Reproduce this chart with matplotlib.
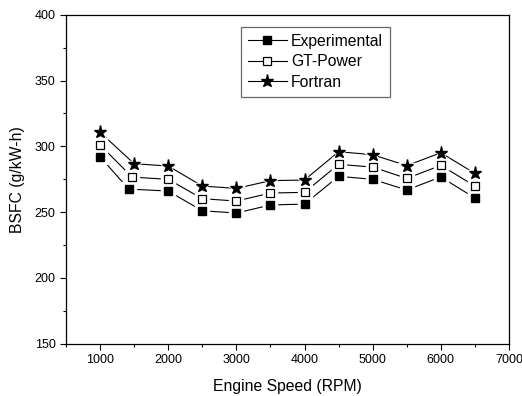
import matplotlib
matplotlib.use("Agg")
import matplotlib.pyplot as plt
from matplotlib.ticker import MultipleLocator
from matplotlib.lines import Line2D

plt.rcParams["font.family"] = ["Liberation Sans", "DejaVu Sans"]

# Engine speed (RPM) for each series
rpm_exp = [1000, 1420, 2000, 2500, 3000, 3500, 4000, 4500, 5000, 5500, 6000, 6500]
rpm_gt = [1000, 1470, 2000, 2500, 3000, 3500, 4000, 4500, 5000, 5500, 6000, 6500]
rpm_fortran = [1000, 1500, 2000, 2500, 3000, 3500, 4000, 4500, 5000, 5500, 6000, 6500]

# BSFC (g/kW-h)
bsfc_exp = [292, 267.5, 266, 251, 249.3, 255.4, 256.1, 277.2, 274.9, 266.8, 276.7, 260.7]
bsfc_gt = [301, 276.6, 274.9, 260.2, 258.4, 264.5, 265, 286.3, 284.2, 275.6, 285.5, 269.8]
bsfc_fortran = [310.6, 286.8, 285, 269.8, 268, 273.9, 274.4, 295.9, 293.6, 285.3, 295.1, 279.4]

series = [
    ("Experimental", rpm_exp, bsfc_exp, dict(marker="s", ms=5.5, mfc="black", mec="black")),
    ("GT-Power", rpm_gt, bsfc_gt, dict(marker="s", ms=5.5, mfc="white", mec="black", mew=0.9)),
    ("Fortran", rpm_fortran, bsfc_fortran, dict(marker="*", ms=9.5, mfc="black", mec="black")),
]

fig = plt.figure(figsize=(5.22, 3.96), dpi=100)
ax = fig.add_axes([66 / 522, 1 - 343.7 / 396, (509 - 66) / 522, (343.7 - 14.7) / 396])

handles = []
for name, x, y, style in series:
    ax.plot(x, y, color="black", lw=0.8, zorder=2)
    # white halo so the connecting line stops short of each marker
    ax.plot(x, y, ls="none", marker=style["marker"], ms=style["ms"] + 4,
            mfc="white", mec="white", zorder=3)
    ax.plot(x, y, ls="none", zorder=4, **style)
    handles.append(Line2D([], [], color="black", lw=0.8, label=name, **style))

ax.set_xlim(500, 7000)
ax.set_ylim(150, 400)
ax.xaxis.set_major_locator(MultipleLocator(1000))
ax.xaxis.set_minor_locator(MultipleLocator(500))
ax.yaxis.set_major_locator(MultipleLocator(50))
ax.yaxis.set_minor_locator(MultipleLocator(25))
ax.tick_params(which="major", direction="out", length=4, width=0.8, labelsize=9)
ax.tick_params(which="minor", direction="out", length=2.5, width=0.8)
for s in ax.spines.values():
    s.set_linewidth(0.9)

ax.set_xlabel("Engine Speed (RPM)", fontsize=11.3, labelpad=9)
ax.set_ylabel("BSFC (g/kW-h)", fontsize=11.3, labelpad=7)

leg = ax.legend(handles=handles, loc="upper left", bbox_to_anchor=(0.394, 0.9635),
                borderaxespad=0, fontsize=11.3, frameon=True, fancybox=False,
                edgecolor="#444444", handlelength=2.5, handletextpad=0.25,
                borderpad=0.45, labelspacing=0.35)
leg.get_frame().set_linewidth(0.9)

fig.savefig("out.png", dpi=100)
